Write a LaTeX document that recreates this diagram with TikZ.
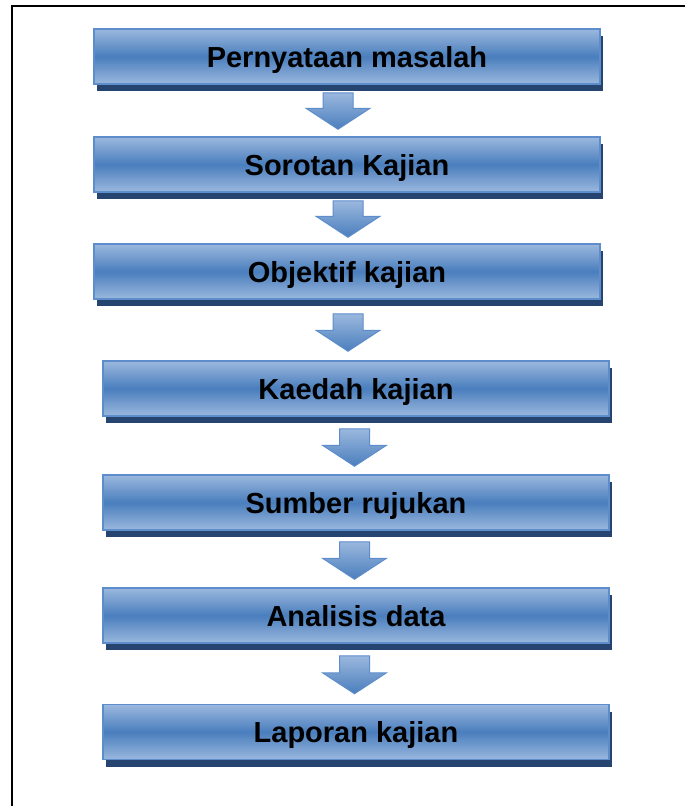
\documentclass[tikz,border=0pt]{standalone}
\usepackage{fontspec}
\setmainfont{Liberation Sans}
\usetikzlibrary{calc,shadows}
\definecolor{kotakatas}{HTML}{9BB8DE}
\definecolor{kotaktengah}{HTML}{4A7EBD}
\definecolor{kotakgaris}{HTML}{5E8DCB}
\definecolor{bayang}{HTML}{264470}
\tikzset{
    kotak/.style = {draw=kotakgaris, line width=1.5pt, rectangle, minimum width=506pt, minimum height=55pt, inner sep=0pt,
        text height=21pt, text depth=0pt,
        top color=kotakatas, bottom color=kotakatas, middle color=kotaktengah,
        font=\fontsize{29}{34}\selectfont\bfseries,
        drop shadow={shadow xshift=3pt, shadow yshift=-7pt, fill=bayang, opacity=1}},
    panah-blok/.style = {draw=kotakgaris, line width=1pt, top color=kotakatas, bottom color=kotaktengah},
}
% panah blok: dari, ke, geser x, jarak atas, jarak bawah
\newcommand{\panah}[5]{%
  \path[panah-blok] let \p1 = (#1.south), \p2 = (#2.north) in
    (\x1+#3pt-15pt, \y1-#4pt) -- (\x1+#3pt+15pt, \y1-#4pt)
    -- (\x1+#3pt+15pt, \y2+#5pt+21pt) -- (\x1+#3pt+32pt, \y2+#5pt+21pt)
    -- (\x1+#3pt, \y2+#5pt) -- (\x1+#3pt-32pt, \y2+#5pt+21pt)
    -- (\x1+#3pt-15pt, \y2+#5pt+21pt) -- cycle;
}
\begin{document}
\begin{tikzpicture}[x=1pt, y=-1pt]
\useasboundingbox (0,0) rectangle (685,806);
\draw[line width=2pt] (12,806) -- (12,6) -- (685,6);

\node[kotak] (pernyataan) at (347,56.5) {Pernyataan masalah};
\node[kotak] (sorotan) at (347,164.5) {Sorotan Kajian};
\node[kotak] (objektif) at (347,271.5) {Objektif kajian};
\node[kotak] (kaedah) at (356,388.5) {Kaedah kajian};
\node[kotak] (sumber) at (356,502.5) {Sumber rujukan};
\node[kotak] (analisis) at (356,615.5) {Analisis data};
\node[kotak] (laporan) at (356,732) {Laporan kajian};

\panah{pernyataan}{sorotan}{-9}{8}{7}
\panah{sorotan}{objektif}{1}{8}{6}
\panah{objektif}{kaedah}{1}{14}{9}
\panah{kaedah}{sumber}{-1.5}{12}{8}
\panah{sumber}{analisis}{-1.5}{11}{8}
\panah{analisis}{laporan}{-1.5}{12}{10}
\end{tikzpicture}
\end{document}
